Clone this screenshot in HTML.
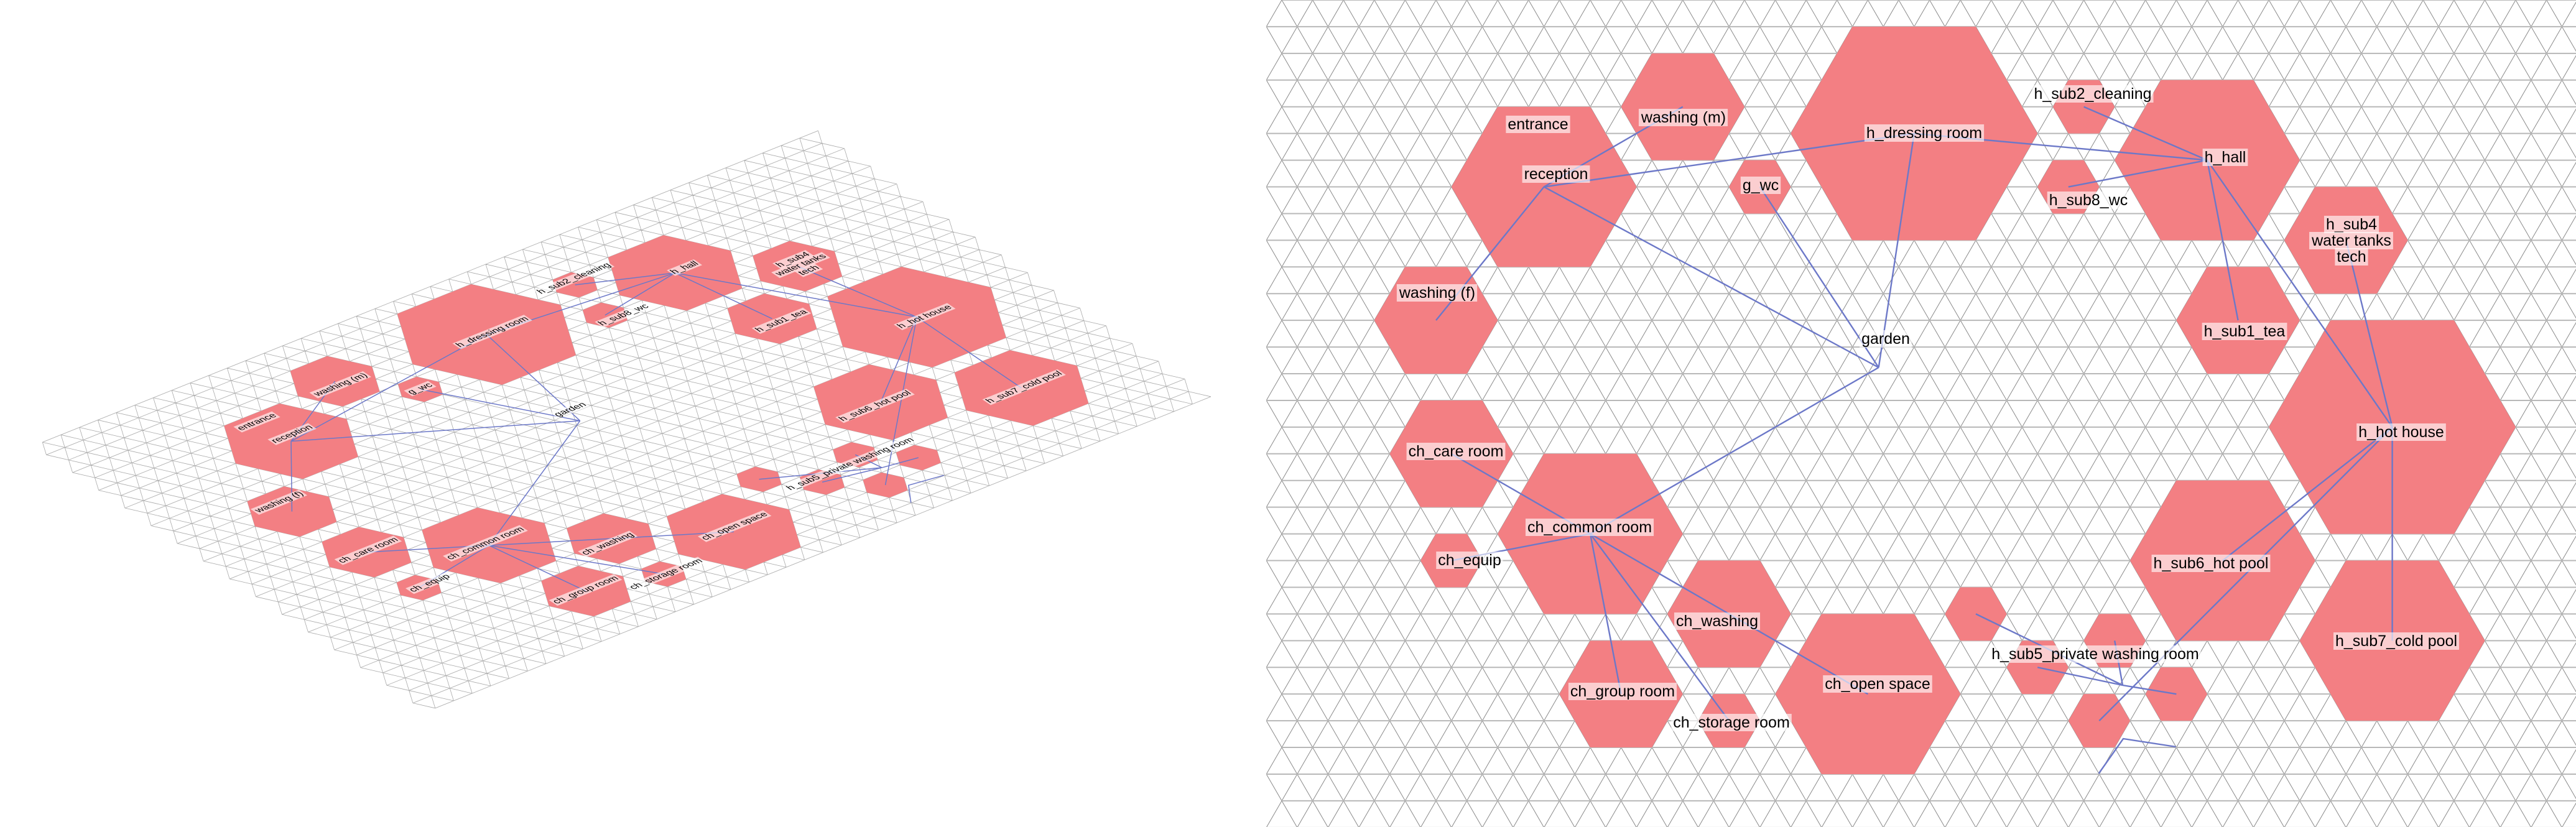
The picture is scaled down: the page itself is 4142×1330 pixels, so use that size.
<!DOCTYPE html>
<html><head><meta charset="utf-8"><style>
html,body{margin:0;padding:0;background:#fff;}
svg{display:block;}
text{font-family:"Liberation Sans",Arial,sans-serif;}
</style></head><body>
<svg id="chart" width="4142" height="1330" viewBox="0 0 4142 1330" xmlns="http://www.w3.org/2000/svg">
<defs><clipPath id="rclip"><rect x="2030" y="0" width="2112" height="1330"/></clipPath></defs>
<g id="left" transform="matrix(0.5987,-0.2405,0.4903,0.3321,-1165.6,1206.9)"></g>
<g id="right" clip-path="url(#rclip)"></g>
</svg>
<script>
// ---- data ----
const roomNames = ["reception","washing (m)","h_dressing room","g_wc","h_sub2_cleaning","h_sub8_wc","h_hall","h_sub1_tea","h_sub4","h_hot house","h_sub6_hot pool","h_sub7_cold pool","washing (f)","ch_care room","ch_equip","ch_common room","ch_washing","ch_group room","ch_storage room","ch_open space","sub5_a","sub5_b","sub5_c","sub5_d","sub5_e"];
const roomRow  = [7,4,5,7,4,7,6,12,9,16,21,24,12,17,21,20,23,26,27,26,23,25,24,26,27];
const roomCol  = [17,26,41,31,52,51,60,62,69,72,61,72,10,11,11,20,29,22,29,38,45,49,54,58,53];
const roomSize = [3,2,4,1,1,1,3,2,2,4,3,3,2,2,1,3,2,2,1,3,1,1,1,1,1];
const extraNodes = {"garden":[3020.7,591],"sub5_hub":[3413,1102]};
const edgeFrom = ["reception","reception","reception","reception","h_dressing room","h_dressing room","g_wc","garden","h_hall","h_hall","h_hall","h_hall","h_hot house","h_hot house","h_hot house","h_hot house","sub5_hub","sub5_hub","sub5_hub","sub5_hub","ch_common room","ch_common room","ch_common room","ch_common room","ch_common room","ch_washing"];
const edgeTo   = ["washing (m)","h_dressing room","garden","washing (f)","h_hall","garden","garden","ch_common room","h_sub2_cleaning","h_sub8_wc","h_sub1_tea","h_hot house","h_sub4","h_sub6_hot pool","h_sub7_cold pool","sub5_e","sub5_a","sub5_b","sub5_c","sub5_d","ch_care room","ch_equip","ch_group room","ch_storage room","ch_washing","ch_open space"];
const bentLineX = [3374.6,3414,3498.6];
const bentLineY = [1244,1188,1201];
const labelText = ["entrance","reception","washing (m)","h_dressing room","g_wc","h_sub2_cleaning","h_sub8_wc","h_hall","h_sub4","water tanks","tech","h_sub1_tea","h_hot house","h_sub6_hot pool","h_sub7_cold pool","garden","washing (f)","ch_care room","ch_common room","ch_equip","ch_washing","ch_group room","ch_storage room","ch_open space","h_sub5_private washing room"];
const labelX = [2473,2502,2707,3094,2831,3365,3358,3578,3781,3781,3781,3609,3861,3555,3853,3032,2311,2341,2556,2363,2761,2609,2784,3019,3369];
const labelY = [200,280,189,214,298,151,322,253,361,387,413,533,695,906,1031,545,471,726,848,901,999,1112,1162,1100,1052];

// ---- geometry ----
const W=49.6, H=42.93, X0=2061;
const gx = m => X0 + 24.8*m;
const gy = j => H*j;
const NS="http://www.w3.org/2000/svg";
function mk(tag, parent){const e=document.createElementNS(NS,tag);parent.appendChild(e);return e;}
function nodePos(name){
  const i=roomNames.indexOf(name);
  if(i>=0) return [gx(roomCol[i]), gy(roomRow[i])];
  return extraNodes[name];
}
function gridPath(xmin,xmax,jmin,jmax){
  let hz="", dg="";
  for(let j=jmin;j<=jmax;j++){
    const par=j%2; let first=null,last=null;
    for(let m=par-2;m<=100;m+=2){
      const x=gx(m); if(x<xmin||x>xmax) continue;
      if(first===null) first=x; last=x;
      if(j<jmax){
        for(const dm of [-1,1]){const x2=gx(m+dm); if(x2>=xmin&&x2<=xmax) dg+=`M${x} ${gy(j)}L${x2} ${gy(j+1)}`;}
      }
    }
    if(first!==null) hz+=`M${first} ${gy(j)}L${last} ${gy(j)}`;
  }
  return [hz,dg];
}
function draw(root, isLeft){
  const ns = isLeft ? ' ' : '';
  // grid
  const g = mk('g',root);
  
  
  const [hz,dg] = isLeft ? gridPath(2030,4150,0,30) : gridPath(2030,4200,0,31);
  const p1=mk('path',g); p1.setAttribute('d',dg); p1.setAttribute('fill','none');
  p1.setAttribute('stroke',isLeft?'#a8a8a8':'#8a8a8a'); p1.setAttribute('stroke-width',isLeft?'0.8':'1');
  p1.setAttribute('vector-effect','non-scaling-stroke');
  
  
  const p2=mk('path',g); p2.setAttribute('d',hz); p2.setAttribute('fill','none');
  p2.setAttribute('stroke',isLeft?'#b0b0b0':'#b8b8b8'); p2.setAttribute('stroke-width',isLeft?'0.9':'2');
  p2.setAttribute('vector-effect','non-scaling-stroke');
  
  
  // hexagons
  for(let i=0;i<roomNames.length;i++){
    const cx=gx(roomCol[i]), cy=gy(roomRow[i]), n=roomSize[i];
    const pts=[[cx-n*W,cy],[cx-n*W/2,cy-n*H],[cx+n*W/2,cy-n*H],[cx+n*W,cy],[cx+n*W/2,cy+n*H],[cx-n*W/2,cy+n*H]];
    const h=mk('polygon',root);
    h.setAttribute('points',pts.map(p=>p.join(',')).join(' '));
    h.setAttribute('fill','#f37f83');
    
    
  }
  // edges
  const eg=mk('g',root);
  
  
  for(let i=0;i<edgeFrom.length;i++){
    const a=nodePos(edgeFrom[i]), b=nodePos(edgeTo[i]);
    const l=mk('line',eg);
    l.setAttribute('x1',a[0]);l.setAttribute('y1',a[1]);l.setAttribute('x2',b[0]);l.setAttribute('y2',b[1]);
    l.setAttribute('stroke','#6c78c8');l.setAttribute('stroke-width',isLeft?'1.5':'2.4');
    l.setAttribute('vector-effect','non-scaling-stroke');
    
    
  }
  const bl=mk('polyline',eg);
  bl.setAttribute('points',bentLineX.map((x,i)=>x+','+bentLineY[i]).join(' '));
  bl.setAttribute('fill','none');bl.setAttribute('stroke','#6c78c8');bl.setAttribute('stroke-width',isLeft?'1.5':'2.4');
  bl.setAttribute('vector-effect','non-scaling-stroke');
  
  
  // labels
  for(let i=0;i<labelText.length;i++){
    const lg=mk('g',root);
    
    
    const r=mk('rect',lg);
    const t=mk('text',lg);
    t.textContent=labelText[i];
    t.setAttribute('x',labelX[i]);t.setAttribute('y',labelY[i]);
    t.setAttribute('text-anchor','middle');t.setAttribute('dominant-baseline','central');
    t.setAttribute('font-size','25');t.setAttribute('fill','#000');
    const bb=t.getBBox();
    r.setAttribute('x',bb.x-3);r.setAttribute('y',bb.y);r.setAttribute('width',bb.width+6);r.setAttribute('height',bb.height);
    r.setAttribute('fill','#fff');r.setAttribute('fill-opacity','0.62');
  }
}
draw(document.getElementById('left'), true);
draw(document.getElementById('right'), false);
</script>
</body></html>
